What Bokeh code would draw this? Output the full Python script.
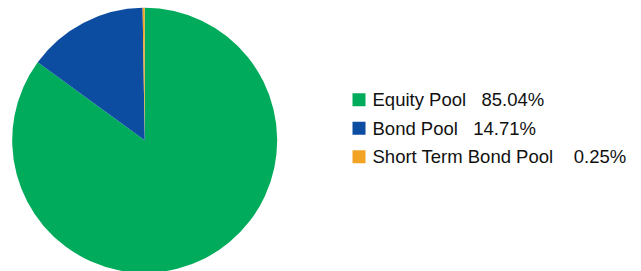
import math
from bokeh.plotting import figure
from bokeh.models import ColumnDataSource
from bokeh.core.properties import value
from bokeh.embed import file_html
from bokeh.resources import INLINE

categories = ["Equity Pool", "Bond Pool", "Short Term Bond Pool"]
shares = [85.04, 14.71, 0.25]
labels = ["85.04%", "14.71%", "0.25%"]
colors = ["#00AB5C", "#0C4DA2", "#F2A324"]
gaps = [3, 3, 4]

W, H = 641, 271
p = figure(width=W, height=H, x_range=(0, W), y_range=(0, H),
           output_backend="svg", toolbar_location=None, min_border=0)
p.axis.visible = False
p.grid.visible = False
p.outline_line_color = None
p.background_fill_color = "white"
p.border_fill_color = "white"

total = sum(shares)
starts, ends = [], []
acc = 0.0
for s in shares:
    starts.append(math.pi / 2 - acc / total * 2 * math.pi)
    acc += s
    ends.append(math.pi / 2 - acc / total * 2 * math.pi)

cx, cy, r = 144.2, 131.2, 132.5
pie = ColumnDataSource(dict(start=starts, end=ends, color=colors))
p.wedge(x=cx, y=cy, radius=r, start_angle="start", end_angle="end",
        direction="clock", fill_color="color", line_color=None, source=pie)

n = len(categories)
y0, dy = 171.8, 28.5
ys = [y0 - i * dy for i in range(n)]
texts = [c + "\u00a0" * g + l for c, g, l in zip(categories, gaps, labels)]
leg = ColumnDataSource(dict(y=ys, color=colors, text=texts))
p.rect(x=358.5, y="y", width=13, height=13, width_units="screen",
       height_units="screen", fill_color="color", line_color=None, source=leg)
p.text(x=372, y="y", text="text", text_font=value("Liberation Sans"),
       text_font_size="18.5px", text_baseline="middle", text_color="#111111",
       source=leg)

open("out.html", "w").write(file_html(p, INLINE))
